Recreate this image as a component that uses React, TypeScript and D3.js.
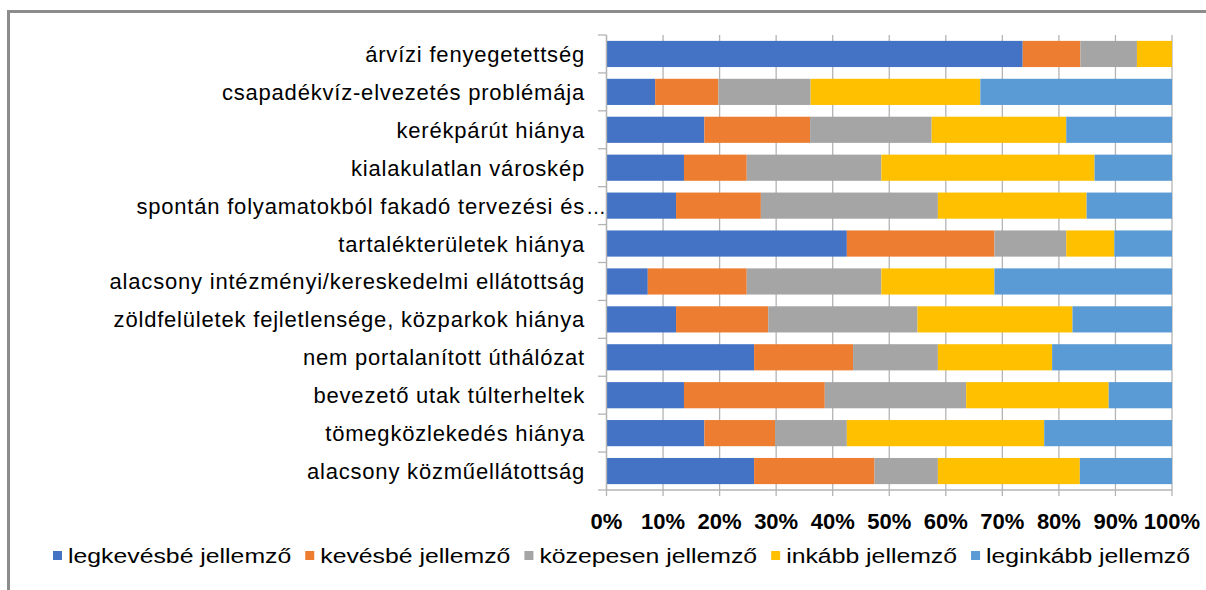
import React, { useEffect, useRef } from "react";
import * as d3 from "d3";

const categories = [
  "árvízi fenyegetettség",
  "csapadékvíz-elvezetés problémája",
  "kerékpárút hiánya",
  "kialakulatlan városkép",
  "spontán folyamatokból fakadó tervezési és…",
  "tartalékterületek hiánya",
  "alacsony intézményi/kereskedelmi ellátottság",
  "zöldfelületek fejletlensége, közparkok hiánya",
  "nem portalanított úthálózat",
  "bevezető utak túlterheltek",
  "tömegközlekedés hiánya",
  "alacsony közműellátottság",
];

const seriesNames = [
  "legkevésbé jellemző",
  "kevésbé jellemző",
  "közepesen jellemző",
  "inkább jellemző",
  "leginkább jellemző",
];

const legkevesbe = [73.6, 8.6, 17.3, 13.7, 12.3, 42.5, 7.3, 12.3, 26.1, 13.7, 17.3, 26.1];
const kevesbe = [10.2, 11.2, 18.7, 11.1, 15.0, 26.1, 17.5, 16.3, 17.5, 24.9, 12.5, 21.3];
const kozepesen = [10.0, 16.3, 21.5, 23.8, 31.3, 12.7, 23.8, 26.4, 15.0, 25.0, 12.7, 11.2];
const inkabb = [6.2, 30.0, 23.8, 37.7, 26.3, 8.5, 20.0, 27.4, 20.2, 25.2, 34.9, 25.1];
const leginkabb = [0.0, 33.9, 18.7, 13.7, 15.1, 10.2, 31.4, 17.6, 21.2, 11.2, 22.6, 16.3];

const tickValues = [0, 0.1, 0.2, 0.3, 0.4, 0.5, 0.6, 0.7, 0.8, 0.9, 1.0];

const colors = ["#4472C4", "#ED7D31", "#A5A5A5", "#FFC000", "#5B9BD5"];

const W = 1206;
const H = 590;
const FONT = "'Liberation Sans', Arial, sans-serif";

export default function App() {
  const legendRef = useRef<SVGGElement>(null);

  const seriesValues = [legkevesbe, kevesbe, kozepesen, inkabb, leginkabb];
  const rows = categories.map((c, i) => {
    const obj: any = { cat: c };
    seriesNames.forEach((s, j) => (obj[s] = seriesValues[j][i]));
    return obj;
  });
  const normalized = rows.map((r) => {
    const tot = d3.sum(seriesNames, (s) => r[s]);
    const o: any = { cat: r.cat };
    seriesNames.forEach((s) => (o[s] = r[s] / tot));
    return o;
  });
  const stacked = d3.stack<any>().keys(seriesNames)(normalized);

  const x = d3.scaleLinear().domain([0, 1]).range([606.5, 1172]);
  const y = d3
    .scaleBand<string>()
    .domain(categories)
    .range([35, 490])
    .paddingInner(0.31)
    .paddingOuter(0.155);

  const step = y.step();
  const boundaries = d3.range(categories.length + 1).map((i) => 35 + i * step);

  useEffect(() => {
    const g = d3.select(legendRef.current);
    g.selectAll("*").remove();
    const startX = 53;
    const endX = 1190;
    const sq = 9;
    const sqGap = 6;
    const itemGap = 14;
    const items = g
      .selectAll("g.item")
      .data(seriesNames)
      .enter()
      .append("g")
      .attr("class", "item");
    items
      .append("rect")
      .attr("width", sq)
      .attr("height", sq)
      .attr("y", 551)
      .attr("fill", (_d, i) => colors[i]);
    const texts = items
      .append("text")
      .attr("y", 563)
      .attr("font-family", FONT)
      .attr("font-size", 20)
      .attr("fill", "#000")
      .text((d) => d);
    const widths: number[] = [];
    texts.each(function () {
      widths.push((this as SVGTextElement).getComputedTextLength());
    });
    const avail = endX - startX - seriesNames.length * (sq + sqGap) - (seriesNames.length - 1) * itemGap;
    const k = avail / d3.sum(widths);
    let cx = startX;
    items.each(function (_d, i) {
      const it = d3.select(this);
      it.select("rect").attr("x", cx);
      const tw = widths[i] * k;
      it.select("text")
        .attr("x", cx + sq + sqGap)
        .attr("textLength", tw)
        .attr("lengthAdjust", "spacingAndGlyphs");
      cx += sq + sqGap + tw + itemGap;
    });
  }, []);

  const labelProps = {
    fontFamily: FONT,
    fontSize: 22,
    letterSpacing: 0.8,
    fill: "#000",
  };

  return (
    <svg
      width={W}
      height={H}
      style={{ position: "absolute", left: 0, top: 0, background: "#fff" }}
    >
      <rect x={0} y={0} width={W} height={H} fill="#fff" />
      {/* outer border */}
      <path d={`M8.5,${H + 5} L8.5,11.5 L${W + 5},11.5`} fill="none" stroke="#8c8c8c" strokeWidth={3} />

      {/* gridlines */}
      {tickValues.map((t) => (
        <line key={"g" + t} x1={x(t)} x2={x(t)} y1={35} y2={496} stroke="#b4b4b4" strokeWidth={1.3} />
      ))}

      {/* bars */}
      {stacked.map((layer, si) => (
        <g key={layer.key} fill={colors[si]}>
          {layer.map((d, i) => (
            <rect
              key={i}
              x={x(d[0])}
              y={y(categories[i])}
              width={Math.max(0, x(d[1]) - x(d[0]))}
              height={y.bandwidth()}
            />
          ))}
        </g>
      ))}

      {/* y axis */}
      <line x1={606.5} x2={606.5} y1={35} y2={490} stroke="#b4b4b4" strokeWidth={1.3} />
      {boundaries.map((b, i) => (
        <line key={"yt" + i} x1={598} x2={606.5} y1={b} y2={b} stroke="#b4b4b4" strokeWidth={1.3} />
      ))}
      {/* x axis */}
      <line x1={606.5} x2={1172} y1={490} y2={490} stroke="#b4b4b4" strokeWidth={1.3} />

      {/* category labels */}
      {categories.map((c) => {
        const cy = (y(c) as number) + y.bandwidth() / 2 + 8;
        if (c.endsWith("…")) {
          return (
            <g key={c}>
              <text x={585} y={cy} textAnchor="end" {...labelProps}>
                {c.slice(0, -1)}
              </text>
              <text x={586} y={cy} fontFamily={FONT} fontSize={20} fill="#000">
                …
              </text>
            </g>
          );
        }
        return (
          <text key={c} x={585} y={cy} textAnchor="end" {...labelProps}>
            {c}
          </text>
        );
      })}

      {/* tick labels */}
      {tickValues.map((t) => (
        <text
          key={"tl" + t}
          x={x(t)}
          y={529}
          textAnchor="middle"
          fontFamily={FONT}
          fontWeight="bold"
          fontSize={22}
          fill="#000"
        >
          {d3.format(".0%")(t)}
        </text>
      ))}

      <g ref={legendRef} />
    </svg>
  );
}
